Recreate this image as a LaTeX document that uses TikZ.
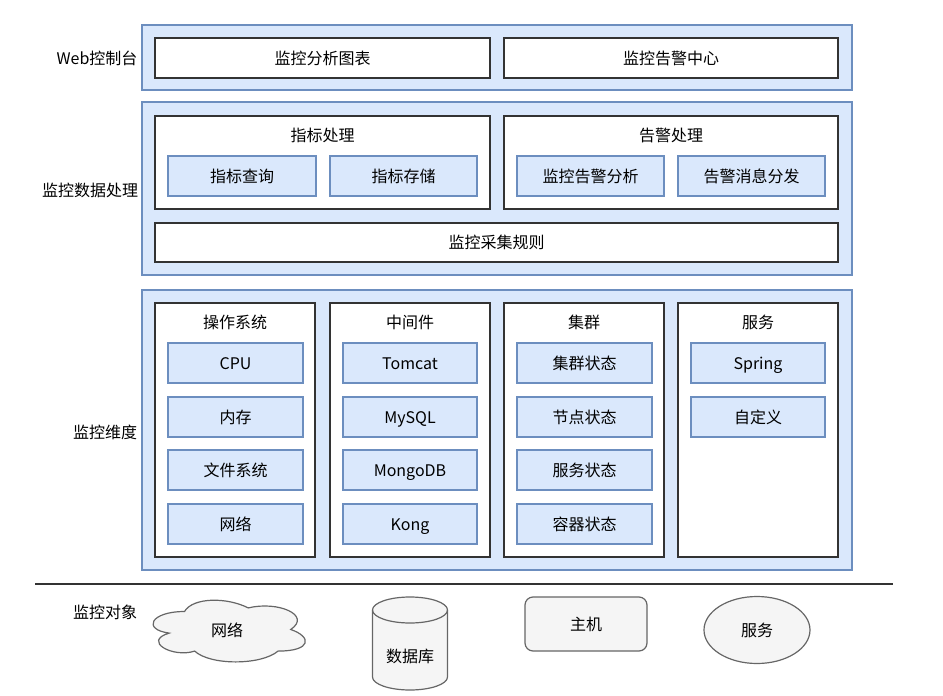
\documentclass[tikz,border=0pt]{standalone}
\usepackage{fontspec}
\setmainfont{Noto Sans CJK SC}
\usetikzlibrary{shapes.geometric}
\definecolor{layerFill}{HTML}{DAE8FC}
\definecolor{layerLine}{HTML}{6C8EBF}
\definecolor{boxLine}{HTML}{333333}
\definecolor{objFill}{HTML}{F5F5F5}
\definecolor{objLine}{HTML}{666666}

\begin{document}
\begin{tikzpicture}[
  x=0.75pt, y=-0.75pt,
  every node/.style={font=\fontsize{12}{14}\selectfont, inner sep=0pt, outer sep=0pt,
                     text height=11pt, text depth=1.5pt},
  sz/.style 2 args={minimum width=#1*0.75pt, minimum height=#2*0.75pt},
  layer/.style={draw=layerLine, fill=layerFill, line width=0.9pt, anchor=north west},
  group/.style={draw=boxLine, fill=white, line width=0.9pt, anchor=north west},
  item/.style={draw=layerLine, fill=layerFill, line width=0.9pt, anchor=north west},
  obj/.style={draw=objLine, fill=objFill, line width=0.9pt},
]
\useasboundingbox (0,0) rectangle (943,696);

% Layer 1: web console
\node (webL) at (97,58) {Web控制台};
\node[layer, sz={710}{65}] (web) at (142,25) {};
\node[group, sz={335}{40}] (chart) at (155,38) {监控分析图表};
\node[group, sz={334}{40}] (alarmC) at (504,38) {监控告警中心};

% Layer 2: data processing
\node (dataL) at (90,190) {监控数据处理};
\node[layer, sz={710}{173}] (data) at (142,102) {};
\node[group, sz={335}{93}] (metric) at (155,116) {};
\node (metric-t) at (322.5,135) {指标处理};
\node[item, sz={148}{40}] (query) at (168,156) {指标查询};
\node[item, sz={147}{40}] (store) at (330,156) {指标存储};
\node[group, sz={334}{93}] (alarm) at (504,116) {};
\node (alarm-t) at (671,135) {告警处理};
\node[item, sz={147}{40}] (analyse) at (517,156) {监控告警分析};
\node[item, sz={147}{40}] (notify) at (678,156) {告警消息分发};
\node[group, sz={683}{39}] (rule) at (155,223) {监控采集规则};

% Layer 3: monitoring dimensions
\node (dimL) at (105,432) {监控维度};
\node[layer, sz={710}{280}] (dim) at (142,290) {};
\foreach \cx/\ttl/\nm in {155/操作系统/os, 330/中间件/mid, 504/集群/clu, 678/服务/svc}{
  \node[group, sz={160}{254}] (\nm) at (\cx,303) {};
  \node (\nm-t) at (\cx+80,322) {\ttl};
}
\foreach \y/\txt/\i in {343/CPU/1, 397/内存/2, 450/文件系统/3, 504/网络/4}
  \node[item, sz={135}{40}] (os-\i) at (168,\y) {\txt};
\foreach \y/\txt/\i in {343/Tomcat/1, 397/MySQL/2, 450/MongoDB/3, 504/Kong/4}
  \node[item, sz={134}{40}] (mid-\i) at (343,\y) {\txt};
\foreach \y/\txt/\i in {343/集群状态/1, 397/节点状态/2, 450/服务状态/3, 504/容器状态/4}
  \node[item, sz={135}{40}] (clu-\i) at (517,\y) {\txt};
\foreach \y/\txt/\i in {343/Spring/1, 397/自定义/2}
  \node[item, sz={134}{40}] (svc-\i) at (691,\y) {\txt};

% separator
\coordinate (sepL) at (35,584);
\coordinate (sepR) at (893,584);
\draw[line width=1.4pt, black!80] (sepL) -- (sepR);

% Monitored objects
\node (objL) at (105,612) {监控对象};
% cloud
\begin{scope}[shift={(142,593.5)}, x=127.5pt, y=-54pt]
  \draw[obj] (0.25,0.25) .. controls (0.05,0.25) and (0,0.5) .. (0.16,0.55)
    .. controls (0,0.66) and (0.18,0.9) .. (0.31,0.8)
    .. controls (0.4,1) and (0.7,1) .. (0.8,0.8)
    .. controls (1,0.8) and (1,0.6) .. (0.875,0.5)
    .. controls (1,0.3) and (0.8,0.1) .. (0.625,0.2)
    .. controls (0.5,0.05) and (0.3,0.05) .. (0.25,0.25) -- cycle;
\end{scope}
\node (net) at (227,630) {网络};
% database
\draw[obj] (372.5,610) -- (372.5,677)
  arc[start angle=180, end angle=0, x radius=37.5, y radius=13] -- (447.5,610)
  arc[start angle=0, end angle=-180, x radius=37.5, y radius=13] -- cycle;
\draw[obj, fill=none] (372.5,610) arc[start angle=180, end angle=0, x radius=37.5, y radius=13];
\node (db) at (410,656) {数据库};
% host and service
\node[obj, rounded corners=6pt, sz={122}{54}] (host) at (586,624) {主机};
\node[obj, ellipse, sz={106}{67}] (svcObj) at (757,630) {服务};

\end{tikzpicture}
\end{document}
